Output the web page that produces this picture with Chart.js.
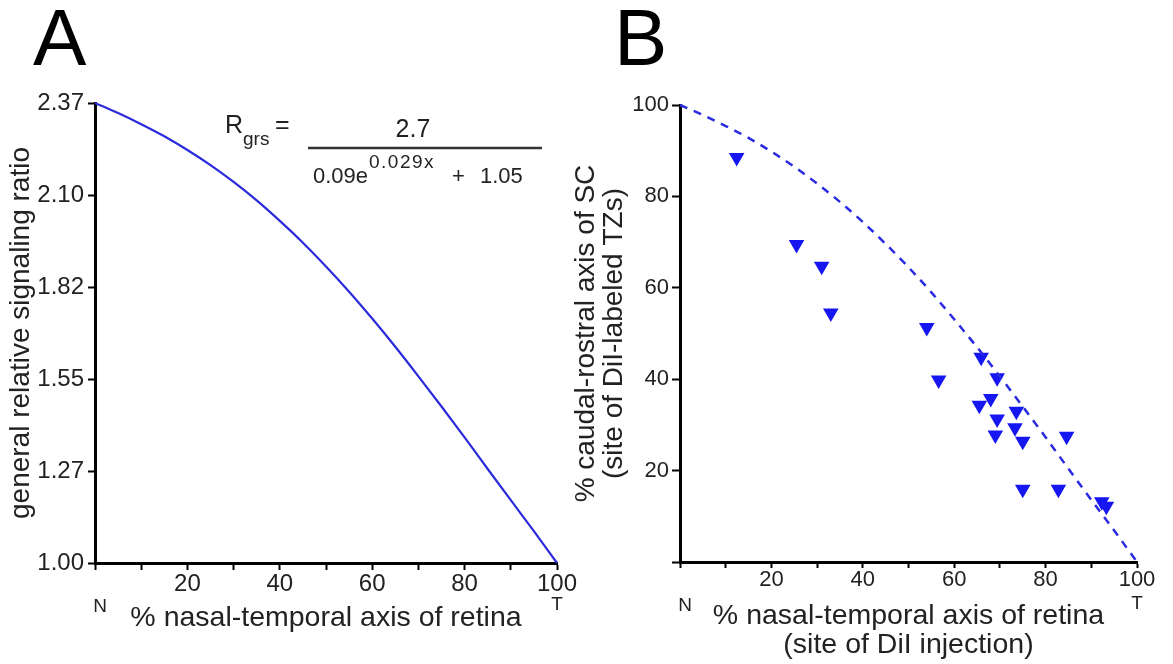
<!DOCTYPE html>
<html>
<head>
<meta charset="utf-8">
<script src="https://cdn.jsdelivr.net/npm/chart.js@4.4.1/dist/chart.umd.min.js"></script>
<style>
  html, body { margin: 0; padding: 0; background: #fff; }
  #wrap { position: relative; width: 1173px; height: 664px; overflow: hidden; }
  canvas { position: absolute; left: 0; top: 0; }
</style>
</head>
<body>
<div id="wrap">
  <canvas id="chartA" width="1173" height="664"></canvas>
  <canvas id="chartB" width="1173" height="664"></canvas>
</div>
<script>
// --- data ---
// panel A: position along the nasal-temporal axis (%) and the ratio
const retinaPos = [0, 5, 10, 15, 20, 25, 30, 35, 40, 45, 50, 55, 60, 65, 70, 75, 80, 85, 90, 95, 100];
const signalRatio = [2.37, 2.34, 2.307, 2.271, 2.230, 2.185, 2.135, 2.080, 2.019, 1.954, 1.883,
                     1.808, 1.728, 1.644, 1.556, 1.466, 1.374, 1.280, 1.187, 1.095, 1.00];
const ratioTicks = [1.00, 1.274, 1.548, 1.822, 2.096, 2.37];
const ratioTickLabels = ['1.00', '1.27', '1.55', '1.82', '2.10', '2.37'];

// panel B: dashed prediction (same x positions) and DiI injection results
const predictedSC = [100, 97.8, 95.4, 92.8, 89.8, 86.5, 82.8, 78.8, 74.4, 69.6, 64.5,
                     59.0, 53.1, 47.0, 40.6, 34.0, 27.3, 20.4, 13.6, 6.9, 0];
const injectionX = [12.4, 25.5, 31.0, 33.0, 54.0, 65.9, 56.6, 69.4, 68.0, 65.5,
                    73.6, 69.4, 73.3, 69.0, 75.0, 84.6, 75.0, 82.8, 92.3, 93.3];
const tzY = [88.5, 69.5, 64.7, 54.5, 51.3, 44.8, 39.8, 40.3, 35.8, 34.3,
             33.0, 31.3, 29.4, 27.8, 26.4, 27.5, 15.9, 15.9, 13.2, 12.2];
const scTicks = [0, 20, 40, 60, 80, 100];
const scTickLabels = ['', '20', '40', '60', '80', '100'];

// shared x axis ticks
const xTicks = [0, 10, 20, 30, 40, 50, 60, 70, 80, 90, 100];
const xTickLabels = ['', '', '20', '', '40', '', '60', '', '80', '', '100'];

const FONT = "'Liberation Sans', Arial, sans-serif";
const TXT = '#222';

function setTicks(values) {
  return function (scale) { scale.ticks = values.map(v => ({ value: v })); };
}

function axisX(height, tickLen, pad, fontSize, title, titlePad) {
  return {
    type: 'linear', min: 0, max: 100,
    afterFit: s => { s.height = height; },
    afterBuildTicks: setTicks(xTicks),
    border: { display: true, color: '#000', width: 3 },
    grid: { drawOnChartArea: false, drawTicks: true, tickLength: tickLen, tickWidth: 2, tickColor: '#000' },
    ticks: {
      autoSkip: false, maxRotation: 0, padding: pad, color: TXT,
      font: { family: FONT, size: fontSize, lineHeight: 1 },
      callback: (v, i) => xTickLabels[i]
    },
    title: { display: true, text: title, color: TXT, padding: { top: 0, bottom: titlePad },
             font: { family: FONT, size: 28.5, lineHeight: 1 } }
  };
}

function extraText(letter, letterX, drawMore) {
  return {
    id: 'extra' + letter,
    afterDraw(chart) {
      const ctx = chart.ctx;
      const xs = chart.scales.x;
      const bottom = chart.chartArea.bottom;
      ctx.save();
      ctx.fillStyle = '#000';
      ctx.textBaseline = 'alphabetic';
      ctx.textAlign = 'left';
      ctx.font = '80px ' + FONT;
      ctx.fillText(letter, letterX, 65);

      ctx.fillStyle = TXT;
      ctx.font = '19px ' + FONT;
      ctx.textAlign = 'center';
      ctx.textBaseline = 'middle';
      ctx.fillText('N', xs.getPixelForValue(0) + 5, bottom + 44);
      ctx.fillText('T', xs.getPixelForValue(100), bottom + 42);
      if (drawMore) drawMore(ctx);
      ctx.restore();
    }
  };
}

function drawFormula(ctx) {
  ctx.fillStyle = TXT;
  ctx.textBaseline = 'alphabetic';
  ctx.textAlign = 'left';
  ctx.font = '25px ' + FONT;
  ctx.fillText('R', 225, 133);
  ctx.font = '19px ' + FONT;
  ctx.fillText('grs', 243, 145);
  ctx.font = '25px ' + FONT;
  ctx.fillText('=', 275, 133);
  ctx.textAlign = 'center';
  ctx.fillText('2.7', 413, 137);
  ctx.strokeStyle = '#333';
  ctx.lineWidth = 2.5;
  ctx.beginPath();
  ctx.moveTo(308, 148);
  ctx.lineTo(542, 148);
  ctx.stroke();
  ctx.textAlign = 'left';
  ctx.font = '22px ' + FONT;
  ctx.fillText('0.09e', 313, 183);
  ctx.font = '19px ' + FONT;
  ctx.letterSpacing = '1.5px';
  ctx.fillText('0.029x', 369, 168);
  ctx.letterSpacing = '0px';
  ctx.font = '22px ' + FONT;
  ctx.fillText('+', 452, 183);
  ctx.fillText('1.05', 480, 183);
}

// --- panel A ---
new Chart(document.getElementById('chartA'), {
  type: 'line',
  data: {
    datasets: [{
      data: retinaPos.map((x, i) => ({ x: x, y: signalRatio[i] })),
      borderColor: '#2b2bdc',
      borderWidth: 2.2,
      pointRadius: 0,
      cubicInterpolationMode: 'monotone',
      clip: false
    }]
  },
  options: {
    responsive: false,
    animation: false,
    layout: { padding: { left: 0, right: 616, top: 103, bottom: 0 } },
    plugins: { legend: { display: false }, tooltip: { enabled: false } },
    scales: {
      x: axisX(101, 7, 2, 24, '% nasal-temporal axis of retina', 32),
      y: {
        type: 'linear', min: 1.00, max: 2.37,
        afterFit: s => { s.width = 95; },
        afterBuildTicks: setTicks(ratioTicks),
        border: { display: true, color: '#000', width: 3 },
        grid: { drawOnChartArea: false, drawTicks: true, tickLength: 7, tickWidth: 2, tickColor: '#000' },
        ticks: {
          autoSkip: false, padding: 4, color: TXT,
          font: { family: FONT, size: 24, lineHeight: 1 },
          callback: (v, i) => ratioTickLabels[i]
        },
        title: { display: true, text: 'general relative signaling ratio', color: TXT,
                 padding: { top: 7, bottom: 0 }, font: { family: FONT, size: 28, lineHeight: 1 } }
      }
    }
  },
  plugins: [extraText('A', 33, drawFormula)]
});

// --- panel B ---
new Chart(document.getElementById('chartB'), {
  type: 'scatter',
  data: {
    datasets: [{
      type: 'line',
      data: retinaPos.map((x, i) => ({ x: x, y: predictedSC[i] })),
      borderColor: '#2a2ae0',
      borderWidth: 2.5,
      borderDash: [8, 7],
      pointRadius: 0,
      cubicInterpolationMode: 'monotone',
      fill: false,
      clip: false
    }, {
      data: injectionX.map((x, i) => ({ x: x, y: tzY[i] })),
      pointStyle: 'triangle',
      rotation: 180,
      pointRadius: 9,
      backgroundColor: '#1616f0',
      borderColor: '#1616f0',
      borderWidth: 0,
      clip: false
    }]
  },
  options: {
    responsive: false,
    animation: false,
    layout: { padding: { left: 572, right: 36, top: 105, bottom: 0 } },
    plugins: { legend: { display: false }, tooltip: { enabled: false } },
    scales: {
      x: axisX(102, 6, 1, 22, ['% nasal-temporal axis of retina', '(site of DiI injection)'], 5),
      y: {
        type: 'linear', min: 0, max: 100,
        afterFit: s => { s.width = 108; },
        afterBuildTicks: setTicks(scTicks),
        border: { display: true, color: '#000', width: 3 },
        grid: { drawOnChartArea: false, drawTicks: true, tickLength: 8, tickWidth: 2, tickColor: '#000' },
        ticks: {
          autoSkip: false, padding: 3, color: TXT,
          font: { family: FONT, size: 22, lineHeight: 1 },
          callback: (v, i) => scTickLabels[i]
        },
        title: { display: true, text: ['% caudal-rostral axis of SC', '(site of DiI-labeled TZs)'], color: TXT,
                 padding: { top: 0, bottom: 0 }, font: { family: FONT, size: 28, lineHeight: 1 } }
      }
    }
  },
  plugins: [extraText('B', 614, null)]
});
</script>
</body>
</html>
